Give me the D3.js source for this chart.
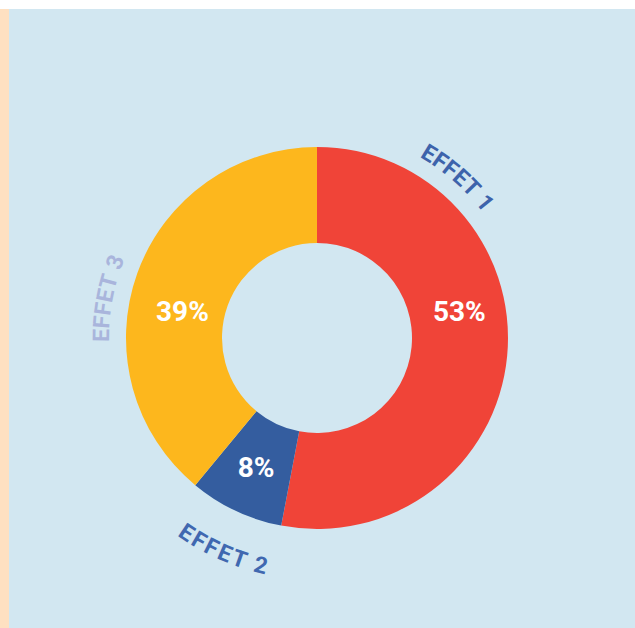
<!DOCTYPE html>
<html>
<head>
<meta charset="utf-8">
<script src="https://cdn.jsdelivr.net/npm/d3@7"></script>
<style>
  html, body { margin: 0; padding: 0; background: #ffffff; }
  svg { display: block; }
</style>
</head>
<body>
<svg id="chart" width="635" height="628"></svg>
<script>
const categories = ["EFFET 1", "EFFET 2", "EFFET 3"];
const values = [53, 8, 39];
const sliceColors = ["#f04438", "#345d9f", "#fdb71d"];
const nameColors = ["#3d63ab", "#4068b0", "#a9b5dc"];

const W = 635, H = 628;
const svg = d3.select("#chart");

// background panels
svg.append("rect").attr("x", 0).attr("y", 9).attr("width", W).attr("height", H - 9).attr("fill", "#d2e7f1");
svg.append("rect").attr("x", 0).attr("y", 9).attr("width", 9).attr("height", H - 9).attr("fill", "#fee0c1");

const cx = 317, cy = 338;
const outerR = 191, innerR = 95;

const data = categories.map((c, i) => ({ name: c, value: values[i], color: sliceColors[i], nameColor: nameColors[i], idx: i }));
const pie = d3.pie().sort(null).value(d => d.value);
const arcs = pie(data);
const arc = d3.arc().innerRadius(innerR).outerRadius(outerR);

const g = svg.append("g").attr("transform", `translate(${cx},${cy})`);

g.selectAll("path.slice")
  .data(arcs)
  .join("path")
  .attr("class", "slice")
  .attr("d", arc)
  .attr("fill", d => d.data.color);

// percentage labels
g.selectAll("text.pct")
  .data(arcs)
  .join("text")
  .attr("class", "pct")
  .each(function(d) {
    const c = arc.centroid(d);
    const big = (d.endAngle - d.startAngle) > Math.PI / 2;
    d3.select(this).attr("x", c[0]).attr("y", big ? -27 : c[1]);
  })
  .attr("text-anchor", "middle")
  .attr("dominant-baseline", "central")
  .attr("fill", "#ffffff")
  .attr("font-family", "Roboto, 'Open Sans', sans-serif")
  .attr("font-weight", 700)
  .attr("font-size", 28)
  .text(d => d.data.value + "%");

// curved category labels
const labelR = 225;
const labelShift = [-54, -1.5, -9]; // degrees from slice middle (label placement)
const defs = svg.append("defs");
arcs.forEach((d, i) => {
  const mid = (d.startAngle + d.endAngle) / 2 + labelShift[i] * Math.PI / 180;
  const bottom = Math.cos(mid) < -0.3;
  const span = 0.9; // radians of guide path
  const a0 = mid - span, a1 = mid + span;
  const pt = a => [labelR * Math.sin(a), -labelR * Math.cos(a)];
  let p0, p1, sweep;
  if (!bottom) { p0 = pt(a0); p1 = pt(a1); sweep = 1; }
  else { p0 = pt(a1); p1 = pt(a0); sweep = 0; }
  defs.append("path")
    .attr("id", "lp" + i)
    .attr("d", `M${p0[0] + cx},${p0[1] + cy} A${labelR},${labelR} 0 0 ${sweep} ${p1[0] + cx},${p1[1] + cy}`);
  svg.append("text")
    .attr("font-family", "Roboto, 'Open Sans', sans-serif")
    .attr("font-weight", 700)
    .attr("font-size", 23)
    .attr("letter-spacing", 1.2)
    .attr("fill", d.data.nameColor)
    .attr("dominant-baseline", "hanging")
    .append("textPath")
    .attr("href", "#lp" + i)
    .attr("startOffset", "50%")
    .attr("text-anchor", "middle")
    .text(d.data.name);
});
</script>
</body>
</html>
